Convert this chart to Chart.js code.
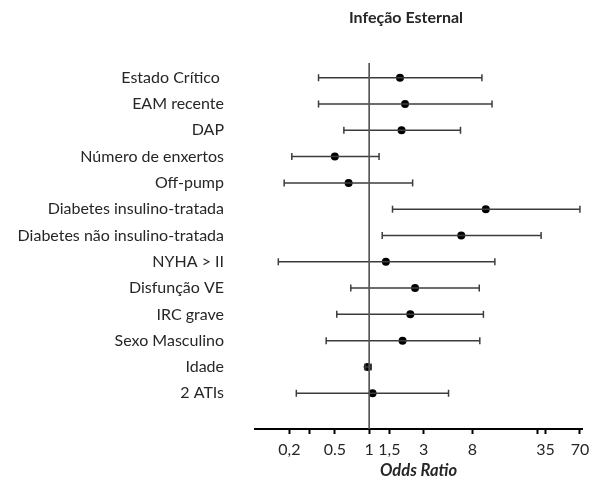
<!DOCTYPE html>
<html>
<head>
<meta charset="utf-8">
<script src="https://cdn.jsdelivr.net/npm/chart.js@4"></script>
<style>
  body { margin: 0; background: #fff; }
  #wrap { width: 593px; height: 479px; }
</style>
</head>
<body>
<div id="wrap"><canvas id="forest" width="593" height="479"></canvas></div>
<script>
// Row labels, top to bottom
const categories = [
  'Estado Crítico ', 'EAM recente', 'DAP', 'Número de enxertos', 'Off-pump',
  'Diabetes insulino-tratada', 'Diabetes não insulino-tratada', 'NYHA > II',
  'Disfunção VE', 'IRC grave', 'Sexo Masculino', 'Idade', '2 ATIs'
];
// Odds ratios and 95% CI
const oddsRatio = [1.86, 2.06, 1.92, 0.50, 0.66, 10.5, 6.4, 1.40, 2.52, 2.29, 1.96, 0.97, 1.07];
const ciLow     = [0.36, 0.36, 0.60, 0.21, 0.18, 1.60, 1.30, 0.16, 0.69, 0.52, 0.42, 0.92, 0.23];
const ciHigh    = [9.7, 11.9, 6.3, 1.22, 2.40, 70, 32, 12.6, 9.2, 10.0, 9.3, 1.04, 4.95];

// x axis ticks
const tickValues = [0.2, 0.3, 0.5, 1, 1.5, 3, 8, 30, 35, 70];
const tickLabels = ['0,2', '', '0.5', '1', '1,5', '3', '8', '', '35', '70'];

const lineColor = '#3c3c3c';
const textColor = '#262626';
const font = 'Lato';

const yMin = 0.44, yMax = 14.36;

const intervalSets = categories.map((c, i) => ({
  type: 'line',
  data: [{ x: ciLow[i], y: i + 1 }, { x: ciHigh[i], y: i + 1 }],
  borderColor: lineColor,
  borderWidth: 1.5,
  pointStyle: 'line',
  rotation: 90,
  pointRadius: 3.5,
  pointBorderColor: lineColor,
  pointBorderWidth: 1.5,
  clip: false
}));

const titlePlugin = {
  id: 'topTitle',
  afterDraw(chart) {
    const ctx = chart.ctx;
    ctx.save();
    ctx.font = 'bold 16px ' + font;
    ctx.fillStyle = textColor;
    ctx.textAlign = 'center';
    ctx.textBaseline = 'middle';
    ctx.fillText('Infeção Esternal', 406, 18);
    ctx.restore();
  }
};

new Chart(document.getElementById('forest'), {
  type: 'scatter',
  data: {
    datasets: [
      {
        type: 'line',
        data: [{ x: 1, y: yMin }, { x: 1, y: yMax }],
        borderColor: '#555',
        borderWidth: 1,
        pointRadius: 0
      },
      ...intervalSets,
      {
        data: oddsRatio.map((v, i) => ({ x: v, y: i + 1 })),
        pointStyle: 'circle',
        pointRadius: 4,
        backgroundColor: '#000',
        borderColor: '#000',
        borderWidth: 0,
        clip: false
      }
    ]
  },
  options: {
    responsive: false,
    animation: false,
    layout: { padding: { top: 63, right: 11, left: 0, bottom: 0 } },
    plugins: {
      legend: { display: false },
      tooltip: { enabled: false }
    },
    scales: {
      x: {
        type: 'logarithmic',
        min: 0.1,
        max: 73,
        afterBuildTicks: s => { s.ticks = tickValues.map(v => ({ value: v })); },
        afterFit: s => { s.height = 50; s.paddingRight = 0; s.paddingLeft = 0; },
        ticks: {
          autoSkip: false,
          maxRotation: 0,
          padding: 6,
          color: textColor,
          font: { family: font, size: 16 },
          callback: v => {
            const k = tickValues.findIndex(t => Math.abs(t - v) < 1e-6);
            return k >= 0 ? tickLabels[k] : '';
          }
        },
        grid: {
          drawOnChartArea: false,
          drawTicks: true,
          tickLength: 5,
          tickColor: '#000',
          tickWidth: 2
        },
        border: { display: true, color: '#000', width: 2 },
        title: {
          display: true,
          text: 'Odds Ratio',
          color: textColor,
          font: { family: font, size: 16.5, weight: 'bold', style: 'italic' },
          padding: { top: 0, bottom: -2 }
        }
      },
      y: {
        type: 'linear',
        reverse: true,
        min: yMin,
        max: yMax,
        afterBuildTicks: s => { s.ticks = categories.map((c, i) => ({ value: i + 1 })); },
        afterFit: s => { s.width = 255; s.paddingTop = 0; s.paddingBottom = 0; },
        ticks: {
          padding: 31,
          color: textColor,
          font: { family: font, size: 16 },
          callback: v => categories[Math.round(v) - 1] || ''
        },
        grid: { display: false, drawTicks: false },
        border: { display: false }
      }
    }
  },
  plugins: [titlePlugin]
});
</script>
</body>
</html>
